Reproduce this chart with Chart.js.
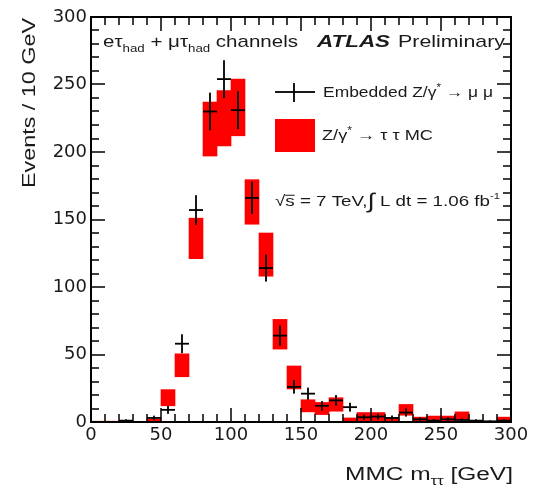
<!DOCTYPE html>
<html>
<head>
<meta charset="utf-8">
<script src="https://cdn.jsdelivr.net/npm/chart.js@4.4.0/dist/chart.umd.min.js"></script>
<style>
html, body { margin: 0; padding: 0; background: #fff; }
</style>
</head>
<body>
<canvas id="myChart" width="535" height="491"></canvas>
<script>
// 10 GeV bins, centres
const binCenters = [5, 15, 25, 35, 45, 55, 65, 75, 85, 95, 105, 115, 125, 135, 145,
                    155, 165, 175, 185, 195, 205, 215, 225, 235, 245, 255, 265, 275, 285, 295];
// embedded Z -> mu mu (points)
const embedded    = [0, 0, 1, 0, 3, 9, 58, 157, 230, 254, 231, 166, 114, 64, 26,
                     21, 12, 16, 11, 3.5, 4, 3, 7, 2, 1, 2, 1.5, 1, 0.5, 1];
const embeddedErr = [0, 0, 1, 0, 1.7, 3, 7, 11, 14, 14, 14, 12, 10, 7.5, 5,
                     4.5, 3.5, 4, 3.3, 2, 2.2, 1.8, 3, 1.5, 1.2, 1.5, 1.2, 1, 0.8, 1];
// Z -> tau tau MC (band)
const mcVal = [0.3, 0.3, 0, 0, 1, 18, 42, 136, 217, 225, 233, 163, 124, 65, 33,
               12, 10, 13, 1.5, 3.5, 3.5, 1.5, 9, 1.8, 2.2, 2.2, 4.5, 0, 0, 1.8];
const mcErr = [0.3, 0.3, 0, 0, 1, 6, 8.5, 15, 20, 20.5, 21, 16.5, 16, 11, 8.5,
               4.5, 4.5, 5, 1.5, 3.5, 3.5, 1.5, 4, 1.8, 2.2, 2.2, 3, 0, 0, 1.8];
const binWidth = 10;
const xTicks = [0, 50, 100, 150, 200, 250, 300];
const yTicks = [0, 50, 100, 150, 200, 250, 300];

const TXT = '#1a1a1a';
const FONT = '"Liberation Sans", Arial, sans-serif';

const mcBands = [];
binCenters.forEach((c, i) => {
    if (mcErr[i] > 0) mcBands.push({x: c, y: [mcVal[i] - mcErr[i], mcVal[i] + mcErr[i]]});
});
const embPoints = [];
binCenters.forEach((c, i) => {
    if (embedded[i] > 0) embPoints.push({x: c, y: embedded[i], e: embeddedErr[i]});
});

// draw a list of text runs, stretched to fit a target width
function drawRuns(g, runs, x0, y0, targetW, align) {
    let nat = 0;
    runs.forEach(r => {
        g.font = (r.style || '') + ' ' + r.s + 'px ' + FONT;
        r.w = g.measureText(r.t).width;
        nat += r.w;
    });
    const sx = targetW ? targetW / nat : 1;
    g.save();
    g.translate(align === 'right' ? x0 - nat * sx : x0, y0);
    g.scale(sx, 1);
    g.fillStyle = TXT;
    g.strokeStyle = TXT;
    g.textAlign = 'left';
    g.textBaseline = 'alphabetic';
    let cx = 0;
    runs.forEach(r => {
        g.font = (r.style || '') + ' ' + r.s + 'px ' + FONT;
        g.fillText(r.t, cx, r.dy || 0);
        if (r.over) {
            g.fillRect(cx, -r.s * 0.75, r.w, 1);
        }
        cx += r.w;
    });
    g.restore();
}

// thin filled bars instead of strokes
function hbar(g, x1, x2, yc, w) { g.fillRect(Math.min(x1, x2), yc - w / 2, Math.abs(x2 - x1), w); }
function vbar(g, xc, y1, y2, w) { g.fillRect(xc - w / 2, Math.min(y1, y2), w, Math.abs(y2 - y1)); }

const atlasDeco = {
    id: 'atlasDeco',
    afterDatasetsDraw(chart) {
        const g = chart.ctx;
        const a = chart.chartArea;
        const sx = chart.scales.x;
        const sy = chart.scales.y;
        g.save();
        g.beginPath();
        g.rect(a.left, a.top, a.right - a.left, a.bottom - a.top);
        g.clip();
        g.fillStyle = '#000000';
        embPoints.forEach(p => {
            const xl = sx.getPixelForValue(p.x - binWidth / 2);
            const xr = sx.getPixelForValue(p.x + binWidth / 2);
            const xc = sx.getPixelForValue(p.x);
            const yc = sy.getPixelForValue(p.y);
            hbar(g, xl, xr, yc, 1.8);
            vbar(g, xc, sy.getPixelForValue(p.y + p.e), sy.getPixelForValue(Math.max(0, p.y - p.e)), 1.8);
        });
        g.restore();
    },
    afterDraw(chart) {
        const g = chart.ctx;
        const a = chart.chartArea;
        const sx = chart.scales.x;
        const sy = chart.scales.y;
        g.save();
        g.globalAlpha = 1;
        g.globalCompositeOperation = 'source-over';

        // header texts
        drawRuns(g, [
            {t: 'e', s: 17}, {t: 'τ', s: 17}, {t: 'had', s: 11, dy: 5},
            {t: ' + ', s: 17}, {t: 'μ', s: 17}, {t: 'τ', s: 17}, {t: 'had', s: 11, dy: 5},
            {t: ' channels', s: 17}
        ], a.left + 12, a.top + 30, 195);
        drawRuns(g, [{t: 'ATLAS', s: 17, style: 'italic bold'}], a.left + 226, a.top + 30, 73);
        drawRuns(g, [{t: 'Preliminary', s: 17}], a.left + 307, a.top + 30, 107);

        // legend: embedded (cross)
        g.fillStyle = '#000000';
        hbar(g, a.left + 184, a.left + 224, a.top + 75, 1.8);
        vbar(g, a.left + 203, a.top + 66, a.top + 85, 1.8);
        drawRuns(g, [
            {t: 'Embedded Z/γ', s: 15}, {t: '*', s: 10, dy: -6}, {t: ' → μ μ', s: 15}
        ], a.left + 232, a.top + 80, 170);
        // legend: MC (red box)
        g.fillStyle = '#ff0000';
        g.fillRect(a.left + 184, a.top + 102, 40, 33);
        drawRuns(g, [
            {t: 'Z/γ', s: 15}, {t: '*', s: 10, dy: -6}, {t: ' → τ τ MC', s: 15}
        ], a.left + 231, a.top + 123, 111);
        // energy / luminosity
        drawRuns(g, [
            {t: '√', s: 15}, {t: 's', s: 15, over: true}, {t: ' = 7 TeV,', s: 15},
            {t: '∫', s: 21, dy: 2}, {t: ' L dt = 1.06 fb', s: 15}, {t: '-1', s: 9, dy: -7}
        ], a.left + 184, a.top + 189, 225);

        // axis titles
        drawRuns(g, [
            {t: 'MMC m', s: 18}, {t: 'ττ', s: 12, dy: 5}, {t: ' [GeV]', s: 18}
        ], a.right + 2, 480, 168, 'right');
        g.save();
        g.translate(35, a.top + 171);
        g.rotate(-Math.PI / 2);
        drawRuns(g, [{t: 'Events / 10 GeV', s: 18}], 0, 0, 170);
        g.restore();

        // frame and ROOT-style inner ticks (every 10, major every 50)
        g.fillStyle = '#000000';
        const L = Math.round(a.left), R = Math.round(a.right);
        const T = Math.round(a.top), B = Math.round(a.bottom);
        g.fillRect(L - 1, T - 1, R - L + 2, 2);
        g.fillRect(L - 1, B - 1, R - L + 2, 2);
        g.fillRect(L - 1, T - 1, 2, B - T + 2);
        g.fillRect(R - 1, T - 1, 2, B - T + 2);
        for (let v = 0; v <= 300; v += 10) {
            const len = (v % 50 === 0) ? 14 : 8;
            const px = Math.round(sx.getPixelForValue(v));
            const py = Math.round(sy.getPixelForValue(v));
            g.fillRect(px - 0.75, B - len, 1.5, len);
            g.fillRect(px - 0.75, T, 1.5, len);
            g.fillRect(L, py - 0.75, len, 1.5);
            g.fillRect(R - len, py - 0.75, len, 1.5);
        }
        g.restore();
    }
};

const ctx = document.getElementById('myChart').getContext('2d');
const mmcChart = new Chart(ctx, {
    type: 'bar',
    data: {
        datasets: [{
            label: 'Z/γ* → ττ MC',
            data: mcBands,
            backgroundColor: '#ff0000',
            borderWidth: 0,
            barPercentage: 1,
            categoryPercentage: 1
        }]
    },
    options: {
        responsive: false,
        animation: false,
        layout: {padding: {left: 0, top: 17, right: 24, bottom: 0}},
        plugins: {legend: {display: false}, tooltip: {enabled: false}},
        scales: {
            x: {
                type: 'linear',
                min: 0, max: 300,
                offset: false,
                afterFit: s => { s.height = 69; },
                afterBuildTicks: s => { s.ticks = xTicks.map(v => ({value: v})); },
                grid: {display: false, drawTicks: false},
                border: {display: false},
                ticks: {
                    color: TXT, padding: 3, maxRotation: 0,
                    font: {family: '"DejaVu Sans", sans-serif', size: 18}
                }
            },
            y: {
                min: 0, max: 300,
                afterFit: s => { s.width = 91; },
                afterBuildTicks: s => { s.ticks = yTicks.map(v => ({value: v})); },
                grid: {display: false, drawTicks: false},
                border: {display: false},
                ticks: {
                    color: TXT, padding: 4,
                    font: {family: '"DejaVu Sans", sans-serif', size: 18}
                }
            }
        }
    },
    plugins: [atlasDeco]
});
</script>
</body>
</html>
